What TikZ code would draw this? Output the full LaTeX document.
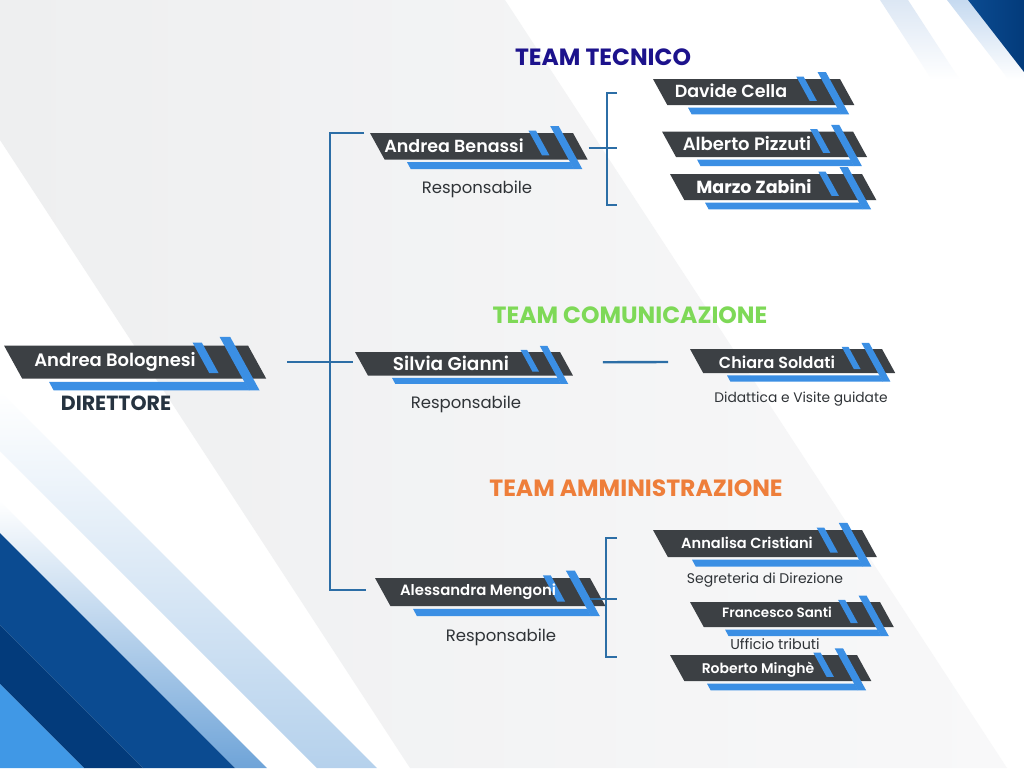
\documentclass[tikz,border=0pt]{standalone}
\usepackage{fontspec}
\setmainfont{Poppins}
\newfontfamily\psemi{Poppins SemiBold}
\usetikzlibrary{calc}
\definecolor{bandgray}{HTML}{3C4044}
\definecolor{accent}{HTML}{3B8FE4}
\definecolor{conncol}{HTML}{2C6EA6}
\definecolor{bgA}{HTML}{EEEFF0}
\definecolor{bgB}{HTML}{F8F8F9}
\definecolor{navyA}{HTML}{0B4B91}
\definecolor{navyB}{HTML}{033B7B}
\definecolor{brightblue}{HTML}{4098E6}
\definecolor{paleA}{HTML}{6FA4D8}
\definecolor{paleB}{HTML}{B5D1EC}
\definecolor{paleC}{HTML}{C6DAF0}
\definecolor{paleD}{HTML}{DCE7F4}
\definecolor{subtext}{HTML}{2F3337}
\definecolor{dirtext}{HTML}{263340}
\definecolor{tecnico}{HTML}{1C128C}
\definecolor{comm}{HTML}{7ED957}
\definecolor{admin}{HTML}{EE7E3A}
\newcommand{\orgbox}[6]{%
 \fill[bandgray] (#2,#4) -- (#3,#4) -- ({#3+0.55*#5},{#4+#5}) -- ({#2+0.55*#5},{#4+#5}) -- cycle;
 \fill[accent] (#6,{#4+1.1*#5}) -- ({#3-0.1*#5},{#4+1.1*#5}) -- ({#3+0.04*#5},{#4+1.36*#5}) -- ({#6+0.14*#5},{#4+1.36*#5}) -- cycle;
 \fill[accent] ({#3-1.68*#5},{#4-0.09*#5}) -- ({#3-1.40*#5},{#4-0.09*#5}) -- ({#3-0.89*#5},{#4+0.84*#5}) -- ({#3-1.17*#5},{#4+0.84*#5}) -- cycle;
 \fill[accent] ({#3-0.86*#5},{#4-0.26*#5}) -- ({#3-0.54*#5},{#4-0.26*#5}) -- ({#3+0.351*#5},{#4+1.36*#5}) -- ({#3+0.031*#5},{#4+1.36*#5}) -- cycle;
 \node[boxarea, minimum width={(#3-#2+0.55*#5)*1pt}, minimum height={#5*1pt}] (#1) at ({(#2+#3+0.55*#5)/2},{#4+#5/2}) {};
}
\tikzset{
 boxarea/.style={rectangle, draw=none, inner sep=0pt, outer sep=0pt},
 nm/.style={anchor=base, inner sep=0pt, text=white},
 sub/.style={anchor=base, inner sep=0pt, text=subtext},
 title/.style={anchor=base, inner sep=0pt},
 conn/.style={draw=conncol, line width=2.4pt},
}
\begin{document}
\begin{tikzpicture}[x=1pt, y=-1pt]
\useasboundingbox (0,0) rectangle (1024,768);
\clip (0,0) rectangle (1024,768);
% background
\fill[white] (0,0) rectangle (1024,768);
\shade[left color=bgA, right color=bgB] (0,0) -- (505,0) -- (1007,768) -- (410,768) -- (0,140) -- cycle;
% bottom-left stripes
\shade[top color=white, middle color=white, bottom color=paleB] (0,391) -- (0,451) -- (317,768) -- (377,768) -- cycle;
\shade[top color=white, middle color=white, bottom color=paleA] (0,501) -- (0,533) -- (235,768) -- (267,768) -- cycle;
\fill[navyA] (0,533) -- (235,768) -- (143,768) -- (0,625) -- cycle;
\fill[navyB] (0,625) -- (143,768) -- (84,768) -- (0,684) -- cycle;
\fill[brightblue] (0,684) -- (84,768) -- (0,768) -- cycle;
% top-right stripes
\shade[top color=paleD, bottom color=white] (880,0) -- (908,0) -- (960,80) -- (932,80) -- cycle;
\shade[top color=paleC, bottom color=white] (947,0) -- (968,0) -- (1030,80) -- (1009,80) -- cycle;
\shade[left color=navyA, right color=navyB] (968,0) -- (1024,0) -- (1024,72) -- cycle;

% boxes
\orgbox{bolognesi}{4}{248}{345.5}{33}{49}
\orgbox{benassi}{370}{573}{133}{26.5}{407}
\orgbox{davide}{653}{840}{79}{26}{688}
\orgbox{alberto}{662}{853}{131.5}{25.5}{697}
\orgbox{marzo}{670}{862}{174}{26}{705}
\orgbox{silvia}{355}{560}{352}{23.5}{392}
\orgbox{chiara}{690}{882}{349}{24}{727}
\orgbox{mengoni}{375}{590}{578}{28}{413}
\orgbox{annalisa}{653}{862}{530}{27}{692}
\orgbox{francesco}{690}{880}{602}{25}{725}
\orgbox{roberto}{670}{857}{655}{26}{707}

% titles
\node[title, text=tecnico, font=\bfseries\fontsize{23.5}{26}\selectfont] (t-tecnico) at (603,66) {TEAM TECNICO};
\node[title, text=comm, font=\bfseries\fontsize{23.5}{26}\selectfont] (t-comm) at (630,323.5) {TEAM COMUNICAZIONE};
\node[title, text=admin, font=\bfseries\fontsize{23.5}{26}\selectfont] (t-admin) at (636,496) {TEAM AMMINISTRAZIONE};

% names
\node[nm, font=\psemi\fontsize{18}{20}\selectfont] (bolognesi-t) at (115,366) {Andrea Bolognesi};
\node[title, text=dirtext, font=\bfseries\fontsize{20.5}{22}\selectfont] (bolognesi-r) at (116,410) {DIRETTORE};
\node[nm, font=\psemi\fontsize{17.5}{19}\selectfont] (benassi-t) at (454,152) {Andrea Benassi};
\node[sub, font=\fontsize{16.5}{18}\selectfont] (benassi-r) at (477,193) {Responsabile};
\node[nm, font=\psemi\fontsize{17.5}{19}\selectfont] (davide-t) at (731,97) {Davide Cella};
\node[nm, font=\psemi\fontsize{18}{20}\selectfont] (alberto-t) at (747,150) {Alberto Pizzuti};
\node[nm, font=\bfseries\fontsize{17.5}{19}\selectfont] (marzo-t) at (754,193) {Marzo Zabini};
\node[nm, font=\psemi\fontsize{18.5}{20}\selectfont] (silvia-t) at (451,370) {Silvia Gianni};
\node[sub, font=\fontsize{16.5}{18}\selectfont] (silvia-r) at (466,408) {Responsabile};
\node[nm, font=\psemi\fontsize{16}{18}\selectfont] (chiara-t) at (777,368) {Chiara Soldati};
\node[sub, font=\fontsize{13.8}{15}\selectfont] (chiara-r) at (801,402) {Didattica e Visite guidate};
\node[nm, font=\psemi\fontsize{14.9}{16}\selectfont] (mengoni-t) at (478,595) {Alessandra Mengoni};
\node[sub, font=\fontsize{16.5}{18}\selectfont] (mengoni-r) at (501,641) {Responsabile};
\node[nm, font=\psemi\fontsize{14.6}{16}\selectfont] (annalisa-t) at (747,548) {Annalisa Cristiani};
\node[sub, font=\fontsize{14}{15}\selectfont] (annalisa-r) at (765,583) {Segreteria di Direzione};
\node[nm, font=\psemi\fontsize{13.5}{16}\selectfont] (francesco-t) at (777,617) {Francesco Santi};
\node[sub, font=\fontsize{14.3}{15}\selectfont] (francesco-r) at (775,649) {Ufficio tributi};
\node[nm, font=\psemi\fontsize{14}{16}\selectfont] (roberto-t) at (758,673) {Roberto Minghè};

% connectors
\coordinate (jT) at (330,133);
\coordinate (jB) at (330,590);
\draw[conn] ([xshift=-6pt]benassi.north west) -- (jT) -- (jB) -- ($(jB)+(36,0)$);
\draw[conn] ($(bolognesi.east)+(21,0)$) -- ($(bolognesi.east -| silvia.west)+(-2,0)$);
% tecnico bracket
\coordinate (tT) at (607,93);
\coordinate (tB) at (607,205);
\draw[conn] ($(tT)+(10,0)$) -- (tT) -- (tB) -- ($(tB)+(10,0)$);
\draw[conn] ($(benassi.east)+(1,2)$) -- ($(benassi.east -| tT)+(10,2)$);
% comunicazione
\draw[conn] ($(silvia.east)+(30,-1.5)$) -- ($(chiara.west)+(-22,1)$);
% amministrazione bracket
\coordinate (aT) at (606,538);
\coordinate (aB) at (606,657);
\draw[conn] ($(aT)+(11,0)$) -- (aT) -- (aB) -- ($(aB)+(11,0)$);
\draw[conn] ($(mengoni.east)+(-15,7)$) -- ($(mengoni.east -| aT)+(11,7)$);
\end{tikzpicture}
\end{document}
